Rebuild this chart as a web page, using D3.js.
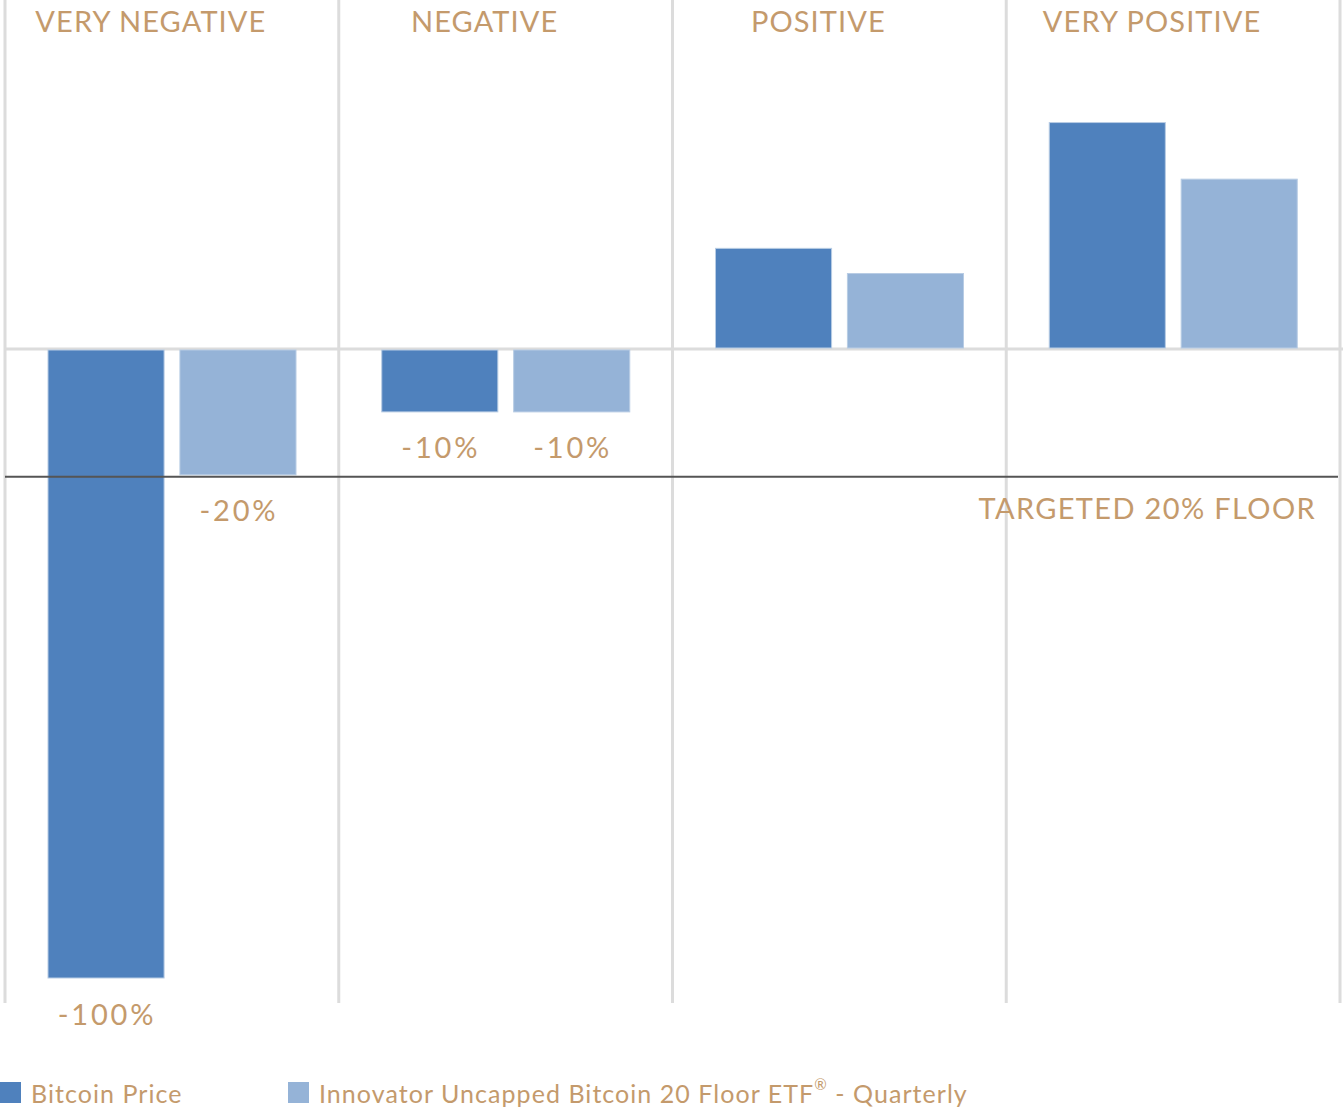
<!DOCTYPE html>
<meta charset="utf-8">
<style>
body { margin: 0; background: #fff; }
text { font-family: Lato, "Open Sans", sans-serif; fill: #c49a6c; }
</style>
<svg width="1343" height="1110"></svg>
<script src="https://cdn.jsdelivr.net/npm/d3@7"></script>
<script>

var categories = ["VERY NEGATIVE", "NEGATIVE", "POSITIVE", "VERY POSITIVE"];
var seriesNames = ["Bitcoin Price", "Innovator Uncapped Bitcoin 20 Floor ETF"];
var bitcoin = [-100, -10, 16, 36];
var etf = [-20, -10, 12, 27];
var labelsBitcoin = ["-100%", "-10%", null, null];
var labelsEtf = ["-20%", "-10%", null, null];
var floorValue = -20;
var floorLabel = "TARGETED 20% FLOOR";

var svg = d3.select("svg"),
    colors = ["#4f81bd", "#95b3d7"];

var x = d3.scaleBand()
    .domain(categories)
    .range([5, 1340]);

var x1 = d3.scaleBand()
    .domain([0, 1])
    .range([43, 291])
    .paddingInner(0.12);

var y = d3.scaleLinear()
    .domain([-100, 0])
    .range([978, 349]);

// vertical gridlines
svg.append("g")
  .selectAll("line")
  .data(d3.range(categories.length + 1))
  .enter().append("line")
    .attr("x1", function(i) { return i < categories.length ? x(categories[i]) : x.range()[1]; })
    .attr("x2", function(i) { return i < categories.length ? x(categories[i]) : x.range()[1]; })
    .attr("y1", 0)
    .attr("y2", 1003)
    .attr("stroke", "#dcdcdc")
    .attr("stroke-width", 3);

// zero line
svg.append("line")
    .attr("x1", 5).attr("x2", 1343)
    .attr("y1", y(0)).attr("y2", y(0))
    .attr("stroke", "#dcdcdc")
    .attr("stroke-width", 3);

var series = [bitcoin, etf];
var labels = [labelsBitcoin, labelsEtf];

series.forEach(function(vals, s) {
  svg.append("g")
    .selectAll("rect")
    .data(vals)
    .enter().append("rect")
      .attr("x", function(d, i) { return x(categories[i]) + x1(s); })
      .attr("width", x1.bandwidth())
      .attr("y", function(d) { return d < 0 ? y(0) + 1 : y(d); })
      .attr("height", function(d) { return Math.abs(y(d) - y(0)) - 1; })
      .attr("fill", colors[s])
      .attr("stroke", "#b8cce4")
      .attr("stroke-width", 1);

  svg.append("g")
    .selectAll("text")
    .data(vals)
    .enter().filter(function(d, i) { return labels[s][i]; }).append("text")
      .attr("x", function(d, i) { return x(categories[i]) + x1(s) + x1.bandwidth() / 2 + 1; })
      .attr("y", function(d) { return y(d) + 35; })
      .attr("text-anchor", "middle")
      .attr("dominant-baseline", "central")
      .attr("font-size", 29)
      .attr("letter-spacing", 2.8)
      .text(function(d, i) { return labels[s][i]; });
});

// floor line
svg.append("line")
    .attr("x1", 5).attr("x2", 1338)
    .attr("y1", y(floorValue) + 2).attr("y2", y(floorValue) + 2)
    .attr("stroke", "#555")
    .attr("stroke-width", 2);

svg.append("text")
    .attr("x", 1316)
    .attr("y", y(floorValue) + 33)
    .attr("text-anchor", "end")
    .attr("dominant-baseline", "central")
    .attr("font-size", 29)
    .attr("letter-spacing", 1.35)
    .text(floorLabel);

// category labels
svg.append("g")
  .selectAll("text")
  .data(categories)
  .enter().append("text")
    .attr("x", function(d) { return x(d) + x.bandwidth() / 2 - 21; })
    .attr("y", 20)
    .attr("text-anchor", "middle")
    .attr("dominant-baseline", "central")
    .attr("font-size", 29)
    .attr("letter-spacing", 1.1)
    .text(function(d) { return d; });

// legend
var legendX = [0, 288];
var lg = svg.append("g")
  .selectAll("g")
  .data(seriesNames)
  .enter().append("g")
    .attr("transform", function(d, i) { return "translate(" + legendX[i] + ",1082)"; });

lg.append("rect")
    .attr("width", 21)
    .attr("height", 21)
    .attr("fill", function(d, i) { return colors[i]; });

var lt = lg.append("text")
    .attr("x", 31)
    .attr("y", 11)
    .attr("dominant-baseline", "central")
    .attr("font-size", 25)
    .attr("letter-spacing", 1.05)
    .text(function(d) { return d; });

lt.filter(function(d, i) { return i === 1; })
  .append("tspan")
    .attr("font-size", 15)
    .attr("dy", -9)
    .text("\u00ae");

lt.filter(function(d, i) { return i === 1; })
  .append("tspan")
    .attr("dy", 9)
    .text(" - Quarterly");

</script>
